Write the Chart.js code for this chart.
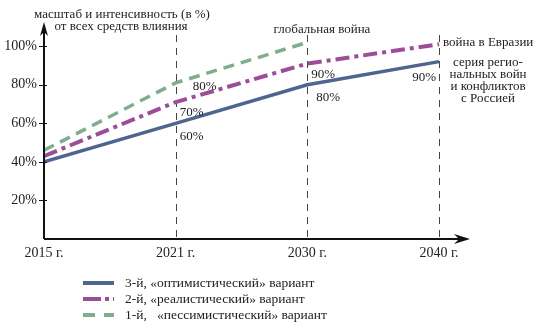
<!DOCTYPE html>
<html>
<head>
<meta charset="utf-8">
<script src="https://cdn.jsdelivr.net/npm/chart.js@4/dist/chart.umd.min.js"></script>
<style>
  html, body { margin: 0; padding: 0; background: #fff; }
  #wrap { width: 537px; height: 329px; position: relative; }
</style>
</head>
<body>
<div id="wrap"><canvas id="chart" width="537" height="329"></canvas></div>
<script>
// Data
const years = ["2015", "2021", "2030", "2040"];
const optimistic = [40, 60, 80, 92];    // 3-й
const realistic = [43, 71, 91, 101];    // 2-й
const pessimistic = [46, 81, 102];      // 1-й (ends at the global war)
const yTicks = [20, 40, 60, 80, 100];
const seriesNames = [
  "3-й, «оптимистический» вариант",
  "2-й, «реалистический» вариант",
  "1-й,   «пессимистический» вариант"
];

const FONT = "'Liberation Serif', 'DejaVu Serif', serif";
const TEXT = "#222";

function toPoints(arr) {
  return arr.map((v, i) => ({ x: i, y: v }));
}

// Axes with arrows, dashed year lines, annotations and the legend
const decorPlugin = {
  id: "decor",
  beforeDatasetsDraw(chart) {
    const { ctx, chartArea, scales } = chart;
    const x = scales.x;
    ctx.save();
    // dashed vertical lines at 2021, 2030, 2040
    ctx.strokeStyle = "#444";
    ctx.lineWidth = 1;
    ctx.setLineDash([7, 6]);
    [1, 2, 3].forEach(i => {
      const px = Math.round(x.getPixelForValue(i)) + 0.5;
      ctx.beginPath();
      ctx.moveTo(px, 35);
      ctx.lineTo(px, chartArea.bottom + 4);
      ctx.stroke();
    });
    ctx.setLineDash([]);
    ctx.restore();
  },
  afterDraw(chart) {
    const { ctx, chartArea, scales } = chart;
    const x = scales.x, y = scales.y;
    const left = chartArea.left, bottom = chartArea.bottom;
    ctx.save();
    // axes
    ctx.strokeStyle = "#111";
    ctx.fillStyle = "#111";
    ctx.lineWidth = 2;
    ctx.beginPath();
    ctx.moveTo(left, bottom);
    ctx.lineTo(left, 32);
    ctx.moveTo(left, bottom);
    ctx.lineTo(460, bottom);
    ctx.stroke();
    // arrow heads
    ctx.beginPath();
    ctx.moveTo(left, 22);
    ctx.lineTo(left - 4, 36);
    ctx.lineTo(left, 32);
    ctx.lineTo(left + 4, 36);
    ctx.closePath();
    ctx.fill();
    ctx.beginPath();
    ctx.moveTo(470, bottom);
    ctx.lineTo(454, bottom - 5);
    ctx.lineTo(459, bottom);
    ctx.lineTo(454, bottom + 5);
    ctx.closePath();
    ctx.fill();
    // y tick marks crossing the axis
    ctx.lineWidth = 1;
    yTicks.forEach(v => {
      const py = Math.round(y.getPixelForValue(v)) + 0.5;
      ctx.beginPath();
      ctx.moveTo(left - 5, py);
      ctx.lineTo(left + 3, py);
      ctx.stroke();
    });

    // texts
    ctx.fillStyle = TEXT;
    ctx.font = "13px " + FONT;
    ctx.textBaseline = "middle";
    ctx.textAlign = "center";
    ctx.fillText("масштаб и интенсивность (в %)", 122, 15);
    ctx.fillText("от всех средств влияния", 121, 27);

    const x21 = x.getPixelForValue(1), x30 = x.getPixelForValue(2), x40 = x.getPixelForValue(3);
    ctx.textAlign = "left";
    ctx.fillText("80%", x21 + 17, 87);
    ctx.fillText("70%", x21 + 4, 113);
    ctx.fillText("60%", x21 + 4, 137);
    ctx.fillText("90%", x30 + 4, 75);
    ctx.fillText("80%", x30 + 9, 98);
    ctx.textAlign = "right";
    ctx.fillText("90%", x40 - 3, 78);
    ctx.textAlign = "center";
    ctx.fillText("глобальная война", 322, 30);
    ctx.textAlign = "left";
    ctx.fillText("война в Евразии", x40 + 4, 43);
    ctx.textAlign = "center";
    ["серия регио-", "нальных войн", "и конфликтов", "с Россией"].forEach((t, i) => {
      ctx.fillText(t, 488, 63 + i * 12);
    });

    // legend
    ctx.font = "13.5px " + FONT;
    [0, 1, 2].forEach((di, row) => {
      const ds = chart.data.datasets[di];
      const ly = 283 + row * 16;
      ctx.strokeStyle = ds.borderColor;
      ctx.lineWidth = 4;
      ctx.setLineDash(ds.legendDash);
      ctx.beginPath();
      ctx.moveTo(83, ly);
      ctx.lineTo(114, ly);
      ctx.stroke();
      ctx.setLineDash([]);
      ctx.fillStyle = TEXT;
      ctx.textAlign = "left";
      ctx.fillText(seriesNames[di], 125, ly);
    });
    ctx.restore();
  }
};

const ctx = document.getElementById("chart").getContext("2d");
new Chart(ctx, {
  type: "line",
  data: {
    datasets: [
      {
        label: seriesNames[0],
        data: toPoints(optimistic),
        borderColor: "#4e6590",
        borderWidth: 3.5,
        legendDash: [],
        pointRadius: 0,
        tension: 0
      },
      {
        label: seriesNames[1],
        data: toPoints(realistic),
        borderColor: "#9c4d97",
        borderWidth: 4,
        borderDash: [14, 5, 4, 5],
        legendDash: [18, 4, 4, 4, 4, 4],
        pointRadius: 0,
        tension: 0
      },
      {
        label: seriesNames[2],
        data: toPoints(pessimistic),
        borderColor: "#80ad8c",
        borderWidth: 3.5,
        borderDash: [11, 7],
        legendDash: [12, 9],
        pointRadius: 0,
        tension: 0
      }
    ]
  },
  options: {
    responsive: false,
    animation: false,
    layout: { padding: { left: 0, top: 25, right: 537 - 468, bottom: 70 } },
    plugins: { legend: { display: false }, tooltip: { enabled: false } },
    scales: {
      x: {
        type: "linear",
        min: 0,
        max: 3.22,
        afterBuildTicks: s => { s.ticks = [0, 1, 2, 3].map(v => ({ value: v })); },
        afterFit: s => { s.height = 20; },
        grid: { display: false, drawTicks: false },
        border: { display: false },
        ticks: {
          padding: 6,
          color: TEXT,
          font: { family: FONT, size: 14 },
          maxRotation: 0,
          callback: v => years[v] + " г."
        }
      },
      y: {
        min: 0,
        max: 111,
        afterBuildTicks: s => { s.ticks = yTicks.map(v => ({ value: v })); },
        afterFit: s => { s.width = 44; },
        grid: { display: false, drawTicks: false },
        border: { display: false },
        ticks: {
          padding: 7,
          color: TEXT,
          font: { family: FONT, size: 14 },
          callback: v => v + "%"
        }
      }
    }
  },
  plugins: [decorPlugin]
});
</script>
</body>
</html>
